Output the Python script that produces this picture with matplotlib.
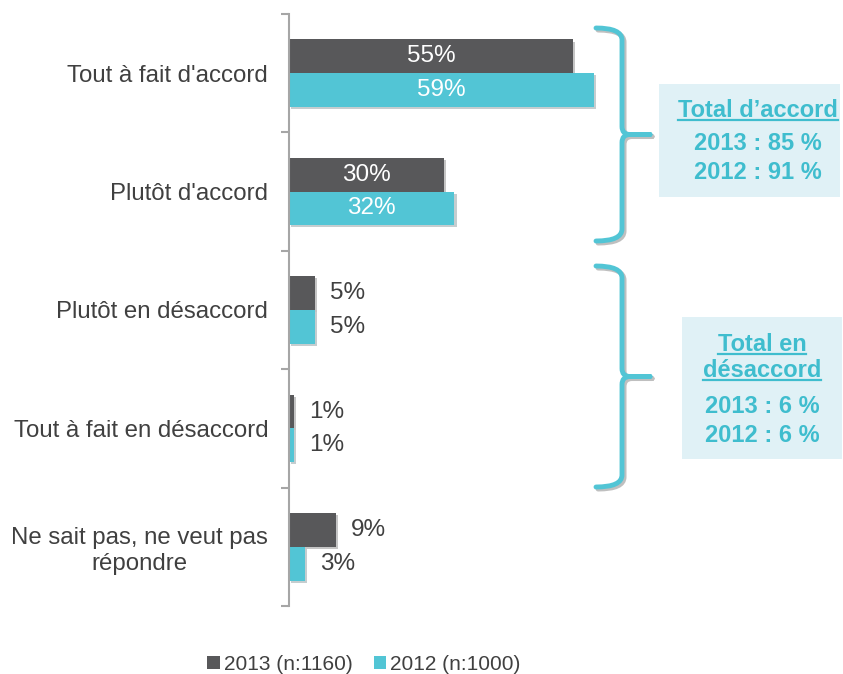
import matplotlib
matplotlib.use("Agg")
import matplotlib.pyplot as plt
import matplotlib.patheffects as pe
from matplotlib.patches import Patch, PathPatch, Rectangle
from matplotlib.path import Path
from matplotlib.lines import Line2D
from matplotlib.transforms import Affine2D

plt.rcParams['font.family'] = ['Liberation Sans', 'DejaVu Sans']

# data
categories = ["Tout à fait d'accord", "Plutôt d'accord", "Plutôt en désaccord",
              "Tout à fait en désaccord", "Ne sait pas, ne veut pas\nrépondre"]
v2013 = [55, 30, 5, 1, 9]
v2012 = [59, 32, 5, 1, 3]
legend_labels = ["2013 (n:1160)", "2012 (n:1000)"]
box1_lines = ["Total d\u2019accord", "2013 : 85 %", "2012 : 91 %"]
box2_lines = ["Total en", "désaccord", "2013 : 6 %", "2012 : 6 %"]

DARK = "#58585A"
TEAL = "#52C5D5"
TXT = "#404040"
BOXTXT = "#3FBDCE"
BOXBG = "#E0F1F6"

W, H = 843, 674
fig = plt.figure(figsize=(W / 100, H / 100), dpi=100)
# pixel coords (y down) -> figure
px = Affine2D().scale(1 / W, -1 / H).translate(0, 1) + fig.transFigure

ax = fig.add_axes([289 / W, 1 - 606 / H, 517 / W, 592 / H])
n = len(categories)
bh = 0.285
ys = list(range(n))
shadow = [pe.SimplePatchShadow(offset=(1.5, -1.5), alpha=0.25), pe.Normal()]
b1 = ax.barh([y - bh / 2 for y in ys], v2013, height=bh, color=DARK, path_effects=shadow)
b2 = ax.barh([y + bh / 2 for y in ys], v2012, height=bh, color=TEAL, path_effects=shadow)
ax.set_xlim(0, 100)
ax.set_ylim(n - 0.5, -0.5)

for bars, vals in ((b1, v2013), (b2, v2012)):
    for bar, v in zip(bars, vals):
        yc = bar.get_y() + bar.get_height() / 2
        if v >= 20:
            ax.text(v / 2, yc, f"{v}%", ha='center', va='center', color='white', fontsize=17.5)
        else:
            ax.annotate(f"{v}%", (v, yc), xytext=(11, 0), textcoords='offset points',
                        ha='left', va='center', color=TXT, fontsize=17.5)

for s in ('top', 'right', 'bottom'):
    ax.spines[s].set_visible(False)
ax.spines['left'].set_color('#A6A6A6')
ax.spines['left'].set_linewidth(1.5)
ax.set_xticks([])
ax.set_yticks([y - 0.5 for y in range(n + 1)])
ax.set_yticklabels([])
ax.tick_params(axis='y', length=6, width=1.5, color='#A6A6A6')
ax.set_yticks(ys, minor=True)
ax.set_yticklabels(categories, minor=True, fontsize=17.3, color=TXT)
ax.tick_params(axis='y', which='minor', length=0, pad=15)
for lab in ax.get_yticklabels(minor=True):
    lab.set_multialignment('center')


def brace(ytop, ybot, xl=596, xv=622, xtip=650):
    ym = (ytop + ybot) / 2
    verts = [(xl, ytop), (xv, ytop), (xv, ytop + 12), (xv, ym - 8), (xv, ym), (xv + 8, ym), (xtip, ym),
             (xtip, ym), (xv + 8, ym), (xv, ym), (xv, ym + 8), (xv, ybot - 12), (xv, ybot), (xl, ybot)]
    codes = [Path.MOVETO, Path.CURVE3, Path.CURVE3, Path.LINETO, Path.CURVE3, Path.CURVE3, Path.LINETO,
             Path.MOVETO, Path.LINETO, Path.CURVE3, Path.CURVE3, Path.LINETO, Path.CURVE3, Path.CURVE3]
    p = PathPatch(Path(verts, codes), transform=px, fill=False, edgecolor=TEAL, lw=3.5,
                  capstyle='round', joinstyle='round',
                  path_effects=[pe.SimpleLineShadow(offset=(1.5, -1.5), alpha=0.25), pe.Normal()])
    fig.add_artist(p)


brace(28, 241)
brace(266, 487)

fig.add_artist(Rectangle((659, 84), 181, 113, transform=px, facecolor=BOXBG, edgecolor='none'))
fig.add_artist(Rectangle((682, 317), 160, 142, transform=px, facecolor=BOXBG, edgecolor='none'))

texts = []
for line, yb, ul in zip(box1_lines, [117, 150, 179], [True, False, False]):
    t = fig.text(758 / W, 1 - yb / H, line, ha='center', va='baseline', fontsize=17,
                 fontweight='bold', color=BOXTXT)
    texts.append((t, ul))
for line, yb, ul in zip(box2_lines, [351, 377, 413, 442], [True, True, False, False]):
    t = fig.text(762 / W, 1 - yb / H, line, ha='center', va='baseline', fontsize=17,
                 fontweight='bold', color=BOXTXT)
    texts.append((t, ul))

fig.canvas.draw()
r = fig.canvas.get_renderer()
for t, ul in texts:
    if not ul:
        continue
    bb = t.get_window_extent(r)
    ybase = t.get_position()[1] * H - 3
    fig.add_artist(Line2D([bb.x0 / W, bb.x1 / W], [ybase / H, ybase / H],
                          transform=fig.transFigure, color=BOXTXT, lw=1.6))

handles = [Patch(facecolor=DARK), Patch(facecolor=TEAL)]
fig.legend(handles, legend_labels, loc='center', bbox_to_anchor=(364 / W, 1 - 664 / H), ncol=2,
           frameon=False, fontsize=15, handlelength=0.6, handleheight=0.6, handletextpad=0.2,
           columnspacing=1.0, labelcolor=TXT)

fig.savefig("out.png", dpi=100)
